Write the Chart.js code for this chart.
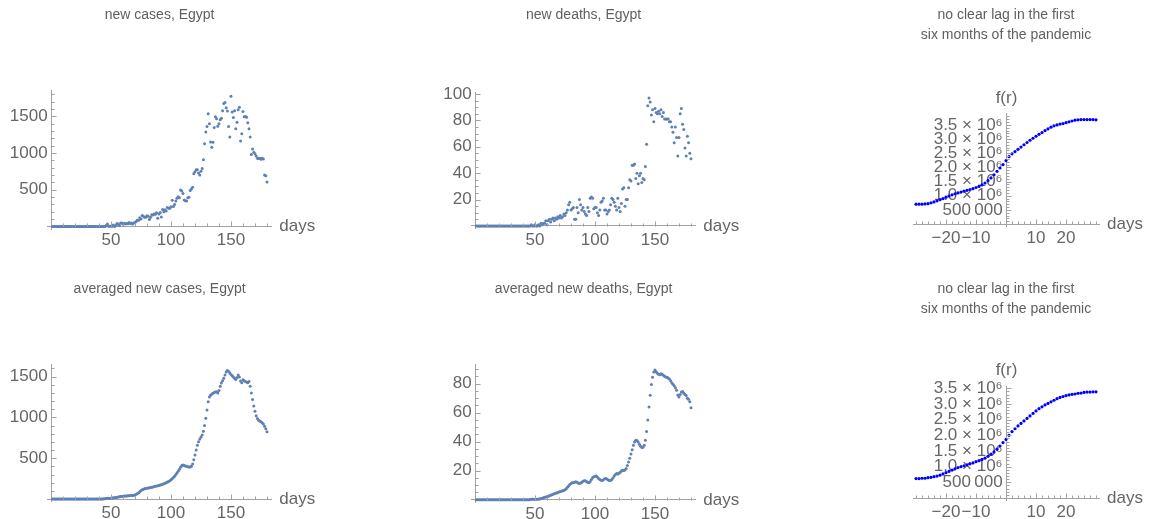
<!DOCTYPE html>
<html>
<head>
<meta charset="utf-8">
<script src="https://cdn.jsdelivr.net/npm/chart.js@4.4.1/dist/chart.umd.min.js"></script>
<style>
  html, body { margin: 0; background: #fff; }
  body { width: 1154px; height: 519px; position: relative; overflow: hidden; }
  canvas { position: absolute; }
</style>
</head>
<body>
<canvas id="c1"></canvas><canvas id="c2"></canvas><canvas id="c3"></canvas>
<canvas id="c4"></canvas><canvas id="c5"></canvas><canvas id="c6"></canvas>
<script>
/* Egypt, first 180 days of the pandemic: daily values + lag function f(r) */
const FONT = "'Liberation Sans', Arial, sans-serif";
const TICK_COLOR = '#666', TITLE_COLOR = '#5f5f5f', AXIS_COLOR = '#a3a3a3';
const MMA_BLUE = '#5e81b5', LAG_BLUE = '#0000ff';
const TITLE_SIZE = 14, TITLE_LH = 1.45, TICK_SIZE = 17;

// day index 1..180 and lag r = -30..30 (categories)
const FIRST_DAY = 1, DAY_COUNT = 180;
const FIRST_LAG = -30, LAG_COUNT = 61;

const newCases = [
  0,0,0,0,0,0,0,0,0,0, 0,0,0,0,0,0,0,0,0,0, 0,0,0,1,0,0,0,0,0,0, 0,0,0,0,0,0,0,0,0,1,
  0,0,0,0,0,12,33,3,4,7, 4,20,1,13,40,30,14,46,46,29, 45,33,39,36,54,40,46,33,47,54,
  69,86,85,120,103,149,139,126,125,145, 139,95,125,160,155,171,168,188,112,171,
  189,129,232,201,228,210,260,248,248,269, 358,272,298,348,384,406,393,497,483,450,
  362,350,346,392,398,491,510,535,720,745, 774,774,727,700,752,789,910,1127,1289,1362,
  1536,1399,1152,1079,1149,1348,1497,1467,1365,1399, 1455,1475,1577,1677,1691,1618,1575,1363,1218,1774,
  1559,1485,1576,1331,1422,1590,1625,1166,1264,1566, 1497,1500,1490,1412,1332,1218,980,1057,1010,990,
  960,930,925,930,916,929,921,702,690,607
];
const newDeaths = [
  0,0,0,0,0,0,0,0,0,0, 0,0,0,0,0,0,0,0,0,0, 0,0,0,0,0,0,0,0,0,0, 0,0,0,0,0,0,0,0,0,0,
  0,0,0,0,0,0,1,0,0,1, 0,0,1,0,2,1,2,2,4,1, 4,5,3,5,6,4,6,5,7,6,
  8,6,7,9,8,10,12,16,18,12, 13,14,5,5,14,10,20,16,12,14, 11,9,8,14,11,21,22,21,13,14,
  14,10,8,12,18,19,21,12,12,9, 11,12,16,21,20,18,15,12,21,14, 11,17,28,29,15,20,20,29,35,34,
  46,46,47,36,40,32,38,40,33,36, 35,45,62,91,97,94,84,88,79,89, 86,85,87,85,88,83,86,81,81,81,
  81,79,79,75,71,63,75,67,53,67, 85,89,77,73,59,53,68,63,55,51
];
const avgCases = [
  0,0,0,0,0,0,0,0,0,0, 0,0,0,0,0,0,0,0,0,0, 0,0,0,0,0,0,0,0,0,0, 0,0,0,0,0,0,0,0,0,0,
  0,0,1,2,4,6,8,9,9,10, 12,14,16,18,22,25,27,30,32,34, 36,37,38,39,41,42,43,44,46,50,
  57,66,78,90,103,113,120,125,128,131, 134,137,140,143,147,152,156,160,163,167,
  172,176,181,187,193,200,207,215,224,235, 248,262,280,300,320,340,365,390,410,418,
  412,405,400,396,393,392,400,430,480,540, 600,660,700,735,760,785,830,900,990,1090,
  1190,1250,1270,1285,1295,1305,1312,1315,1300,1330, 1380,1420,1450,1480,1520,1555,1575,1565,1545,1525,
  1510,1495,1480,1465,1490,1520,1495,1445,1425,1460, 1450,1440,1435,1425,1440,1380,1300,1220,1140,1075,
  1020,985,965,955,945,935,920,890,860,825
];
const avgDeaths = [
  0,0,0,0,0,0,0,0,0,0, 0,0,0,0,0,0,0,0,0,0, 0,0,0,0,0,0,0,0,0,0, 0,0,0,0,0,0,0,0,0,0,
  0,0,0,0,0,0.1,0.3,0.3,0.3,0.3, 0.3,0.3,0.4,0.5,0.8,1.0,1.3,1.6,1.9,2.1, 2.4,2.7,3.0,3.4,3.8,4.1,4.4,4.7,5.0,5.3,
  5.6,5.9,6.1,6.4,6.8,7.5,8.5,9.5,10.4,11.1, 11.6,11.9,12.1,12.3,12.0,11.5,11.2,11.5,12.1,12.7,
  13.1,13.0,12.5,11.9,11.6,12.5,13.9,15.1,15.8,16.2, 16.3,15.6,14.7,13.9,13.4,13.3,13.8,14.4,14.6,14.2,
  13.6,13.2,13.3,13.9,15.0,16.3,17.4,18.0,17.7,18.2, 19.0,19.8,20.3,20.2,20.5,21.5,23.5,26.0,28.5,31.5,
  34.5,37.5,39.8,41.0,40.8,39.8,38.2,36.8,36.0,36.1, 37.5,41.0,47.0,55.0,64.0,72.0,79.5,84.5,88.0,89.5,
  88.3,87.2,86.5,86.2,86.8,86.6,85.8,85.2,84.7,84.4, 83.9,83.2,82.0,80.7,79.6,78.6,77.2,75.5,72.3,70.8,
  72.5,74.3,74.6,73.4,72.6,71.8,70.0,69.3,67.5,63.5
];
// f(r), r = -30..30
const lagRaw = [
  0.70e6,0.70e6,0.70e6,0.71e6,0.72e6,0.75e6,0.78e6,0.82e6,0.86e6,0.90e6,
  0.95e6,0.99e6,1.03e6,1.07e6,1.10e6,1.13e6,1.16e6,1.19e6,1.22e6,1.25e6,
  1.29e6,1.33e6,1.38e6,1.45e6,1.53e6,1.63e6,1.74e6,1.86e6,1.98e6,2.10e6,
  2.24e6,
  2.38e6,2.48e6,2.56e6,2.64e6,2.72e6,2.80e6,2.88e6,2.96e6,3.03e6,3.10e6,
  3.17e6,3.23e6,3.30e6,3.36e6,3.42e6,3.47e6,3.50e6,3.53e6,3.55e6,3.58e6,
  3.61e6,3.64e6,3.67e6,3.68e6,3.69e6,3.69e6,3.69e6,3.69e6,3.69e6,3.68e6
];
const lagAvg = [
  0.62e6,0.62e6,0.63e6,0.63e6,0.65e6,0.66e6,0.68e6,0.70e6,0.73e6,0.77e6,
  0.81e6,0.85e6,0.89e6,0.93e6,0.97e6,1.00e6,1.03e6,1.06e6,1.09e6,1.12e6,
  1.16e6,1.19e6,1.23e6,1.27e6,1.33e6,1.40e6,1.47e6,1.56e6,1.66e6,1.77e6,
  1.87e6,
  2.00e6,2.12e6,2.21e6,2.30e6,2.38e6,2.46e6,2.54e6,2.62e6,2.70e6,2.78e6,
  2.85e6,2.91e6,2.97e6,3.02e6,3.07e6,3.12e6,3.17e6,3.21e6,3.24e6,3.27e6,
  3.29e6,3.31e6,3.32e6,3.34e6,3.35e6,3.37e6,3.38e6,3.38e6,3.39e6,3.39e6
];

const dayTicks = [50, 100, 150];
const casesTicks = [500, 1000, 1500];
const deathsTicks = [20, 40, 60, 80, 100];
const avgDeathsTicks = [20, 40, 60, 80];
const lagTicks = [-20, -10, 10, 20];
const lagTickLabels = ['\u221220', '\u221210', '10', '20'];
const fTicks = [500000, 1000000, 1500000, 2000000, 2500000, 3000000, 3500000];
const fTickLabels = ['500\u2009000', '1.0 \u00d7 10\u2076', '1.5 \u00d7 10\u2076', '2.0 \u00d7 10\u2076',
                     '2.5 \u00d7 10\u2076', '3.0 \u00d7 10\u2076', '3.5 \u00d7 10\u2076'];

const days = Array.from({ length: DAY_COUNT }, (_, i) => FIRST_DAY + i);
const lags = Array.from({ length: LAG_COUNT }, (_, i) => FIRST_LAG + i);

/* cell = canvas box, area = plot box (page px) */
const PANELS = [
  { id: 'c1', cell: [0, 0, 380, 260], area: [47.9, 90, 271.3, 229.1], titleY: 15.5,
    title: ['new cases, Egypt'], x: [-2.6, 183.6], y: [-36, 1860], xs: days, ys: newCases,
    xTicks: dayTicks, xStep: 10, yTicks: casesTicks, yStep: 100 },
  { id: 'c2', cell: [380, 0, 400, 260], area: [471.9, 92, 695.3, 228.6], titleY: 15.5,
    title: ['new deaths, Egypt'], x: [-2.6, 183.6], y: [-2, 101.5], xs: days, ys: newDeaths,
    xTicks: dayTicks, xStep: 10, yTicks: deathsTicks, yStep: 5 },
  { id: 'c3', cell: [780, 0, 374, 260], area: [913, 113.9, 1099, 226.3], titleY: 15,
    title: ['no clear lag in the first', 'six months of the pandemic'], x: [-31, 31], y: [-0.08e6, 3.89e6],
    xs: lags, ys: lagRaw, color: LAG_BLUE, r: 1.6, fLabel: true,
    xTicks: lagTicks, xLabels: lagTickLabels, xStep: 2, yTicks: fTicks, yLabels: fTickLabels, yStep: 100000 },
  { id: 'c4', cell: [0, 260, 380, 259], area: [47.9, 364, 271.3, 501.7], titleY: 289,
    title: ['averaged new cases, Egypt'], x: [-2.6, 183.6], y: [-33, 1654], xs: days, ys: avgCases,
    xTicks: dayTicks, xStep: 10, yTicks: casesTicks, yStep: 100 },
  { id: 'c5', cell: [380, 260, 400, 259], area: [471.9, 364, 695.3, 502.3], titleY: 289,
    title: ['averaged new deaths, Egypt'], x: [-2.6, 183.6], y: [-1.8, 93.6], xs: days, ys: avgDeaths,
    xTicks: dayTicks, xStep: 10, yTicks: avgDeathsTicks, yStep: 5 },
  { id: 'c6', cell: [780, 260, 374, 259], area: [913, 386, 1099, 500.2], titleY: 289,
    title: ['no clear lag in the first', 'six months of the pandemic'], x: [-31, 31], y: [-0.07e6, 3.575e6],
    xs: lags, ys: lagAvg, color: LAG_BLUE, r: 1.6, fLabel: true,
    xTicks: lagTicks, xLabels: lagTickLabels, xStep: 2, yTicks: fTicks, yLabels: fTickLabels, yStep: 100000 }
];

// inward Mathematica-style tick marks + "days" / "f(r)" axis labels
const axisMarks = {
  id: 'axisMarks',
  afterDraw(chart, _a, o) {
    const { ctx, scales: { x, y } } = chart;
    const ax = Math.round(x.getPixelForValue(0)) + 0.5;
    const ay = Math.round(y.getPixelForValue(0)) + 0.5;
    ctx.save();
    ctx.strokeStyle = AXIS_COLOR;
    ctx.lineWidth = 1;
    ctx.beginPath();
    for (let k = Math.ceil(x.min / o.xStep); k * o.xStep <= x.max; k++) {
      const v = k * o.xStep;
      if (v === 0) continue;
      const px = Math.round(x.getPixelForValue(v)) + 0.5;
      const len = o.xTicks.includes(v) ? 5 : 3;
      ctx.moveTo(px, ay); ctx.lineTo(px, ay - len);
    }
    for (let k = Math.ceil(y.min / o.yStep); k * o.yStep <= y.max; k++) {
      const v = k * o.yStep;
      if (v === 0) continue;
      const py = Math.round(y.getPixelForValue(v)) + 0.5;
      const len = o.yTicks.includes(v) ? 5 : 3;
      ctx.moveTo(ax, py); ctx.lineTo(ax + len, py);
    }
    ctx.stroke();
    ctx.fillStyle = TICK_COLOR;
    ctx.font = TICK_SIZE + 'px ' + FONT;
    ctx.textBaseline = 'middle';
    ctx.textAlign = 'left';
    ctx.fillText('days', chart.chartArea.right + 8, ay);
    if (o.fLabel) {
      ctx.textAlign = 'center';
      ctx.fillText('f(r)', ax, chart.chartArea.top - 16);
    }
    ctx.restore();
  }
};

function drawPanel(p) {
  const [cx, cy, cw, ch] = p.cell;
  const [al, at, ar, ab] = p.area;
  const canvas = document.getElementById(p.id);
  canvas.width = cw; canvas.height = ch;
  Object.assign(canvas.style, { left: cx + 'px', top: cy + 'px', width: cw + 'px', height: ch + 'px' });
  const lh = TITLE_SIZE * TITLE_LH;
  const padTop = p.titleY - cy - lh / 2;
  const tickFont = { family: FONT, size: TICK_SIZE };
  // y labels sit right on the axis when the axis is placed at x = 0, so pad them with a thin space
  const xLabel = v => p.xLabels ? p.xLabels[p.xTicks.indexOf(v)] : String(v);
  const yLabel = v => (p.yLabels ? p.yLabels[p.yTicks.indexOf(v)] : String(v)) + '\u2009';

  new Chart(canvas, {
    type: 'scatter',
    data: {
      datasets: [{
        data: p.xs.map((d, i) => ({ x: d, y: p.ys[i] })),
        pointRadius: p.r || 1.5, pointBorderWidth: 0,
        pointBackgroundColor: p.color || MMA_BLUE, backgroundColor: p.color || MMA_BLUE
      }]
    },
    options: {
      responsive: false, animation: false, events: [],
      layout: { autoPadding: false, padding: { left: al - cx, right: cx + cw - ar, top: 0, bottom: cy + ch - ab } },
      plugins: {
        legend: { display: false }, tooltip: { enabled: false },
        title: {
          display: true, text: p.title, color: TITLE_COLOR,
          font: { family: FONT, size: TITLE_SIZE, weight: 'normal', lineHeight: TITLE_LH },
          padding: { top: padTop, bottom: at - cy - padTop - p.title.length * lh }
        },
        axisMarks: { xTicks: p.xTicks, xStep: p.xStep, yTicks: p.yTicks, yStep: p.yStep, fLabel: p.fLabel }
      },
      scales: {
        x: {
          type: 'linear', min: p.x[0], max: p.x[1], position: { y: 0 },
          grid: { display: false, drawTicks: false },
          border: { display: true, color: AXIS_COLOR, width: 1 },
          afterBuildTicks: s => { s.ticks = p.xTicks.map(value => ({ value })); },
          ticks: { autoSkip: false, maxRotation: 0, padding: 4, color: TICK_COLOR, font: tickFont, callback: xLabel }
        },
        y: {
          type: 'linear', min: p.y[0], max: p.y[1], position: { x: 0 },
          grid: { display: false, drawTicks: false },
          border: { display: true, color: AXIS_COLOR, width: 1 },
          afterBuildTicks: s => { s.ticks = p.yTicks.map(value => ({ value })); },
          ticks: { autoSkip: false, padding: 3, color: TICK_COLOR, font: tickFont, callback: yLabel }
        }
      }
    },
    plugins: [axisMarks]
  });
}

PANELS.forEach(drawPanel);
</script>
</body>
</html>
